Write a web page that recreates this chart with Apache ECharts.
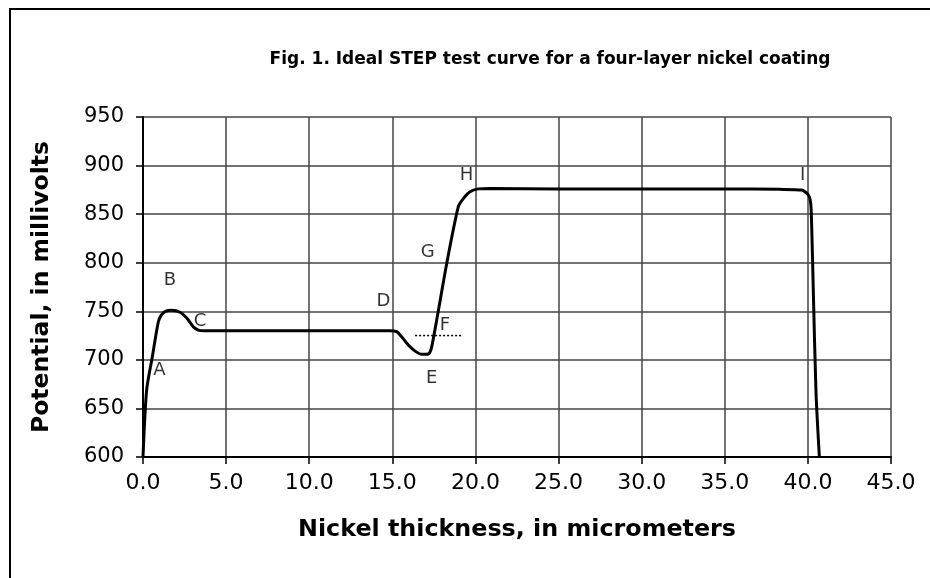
<!DOCTYPE html>
<html>
<head>
<meta charset="utf-8">
<script src="https://cdn.jsdelivr.net/npm/echarts@6/dist/echarts.min.js"></script>
<style>html,body{margin:0;padding:0;background:#fff;}#c{width:930px;height:578px;}</style>
</head>
<body>
<div id="c"></div>
<script>
// Curve: nickel thickness (micrometers) vs potential (mV)
const thickness = [0, 0.22, 0.57, 0.92, 1.1, 1.35, 1.73, 2.23, 2.63, 3.03, 3.33, 3.6, 8, 12, 14.86, 15.26, 15.56, 15.96, 16.37, 16.77, 17.17, 17.37, 18.27, 18.97, 19.27, 19.67, 20.17, 20.88, 25, 30, 35, 38.3, 39.63, 40.03, 40.17, 40.23, 40.33, 40.49, 40.69];
const potential = [600, 669, 704, 739, 746, 750, 751, 749, 743, 734, 730.7, 730, 730, 730, 730, 729, 723.8, 715.3, 709, 705.7, 706, 713.5, 799, 857.7, 866, 873, 876, 876.5, 876, 876, 876, 875.5, 874.8, 869.7, 861, 837, 768.5, 665.6, 600];
// Dotted reference line at F
const fLineX = [16.37, 19.17];
const fLineY = [725, 725];
// Point annotations
const annoNames = ['A', 'B', 'C', 'D', 'E', 'F', 'G', 'H', 'I'];
const annoX = [0.98, 1.62, 3.43, 14.46, 17.37, 18.17, 17.13, 19.47, 39.69];
const annoY = [689.6, 782, 740, 760, 681, 736, 811, 890, 890];
// Axes
const xMin = 0, xMax = 45, xStep = 5;
const yMin = 600, yMax = 950, yStep = 50;

const chart = echarts.init(document.getElementById('c'));
chart.setOption({
  animation: false,
  backgroundColor: '#fff',
  title: {
    text: 'Fig. 1. Ideal STEP test curve for a four-layer nickel coating',
    left: 545, top: 46, textAlign: 'center',
    textStyle: {fontFamily: 'DejaVu Sans', fontWeight: 'bold', fontSize: 17, color: '#000'}
  },
  graphic: [{
    type: 'rect', shape: {x: 10, y: 9, width: 940, height: 600},
    style: {fill: 'none', stroke: '#000', lineWidth: 2}, z: -1
  }],
  grid: {left: 143, right: 39, top: 117, bottom: 121},
  xAxis: {
    type: 'value', min: xMin, max: xMax, interval: xStep,
    name: 'Nickel thickness, in micrometers', nameLocation: 'middle', nameGap: 61,
    nameTextStyle: {fontFamily: 'DejaVu Sans', fontWeight: 'bold', fontSize: 23.8, color: '#000'},
    axisLine: {show: true, onZero: false, lineStyle: {color: '#000', width: 2}},
    axisTick: {show: true, inside: false, length: 7, lineStyle: {color: '#000', width: 1.5}},
    axisLabel: {fontFamily: 'DejaVu Sans', fontSize: 22, color: '#000', margin: 15,
      formatter: v => v.toFixed(1)},
    splitLine: {show: true, lineStyle: {color: '#444', width: 1.5}}
  },
  yAxis: {
    type: 'value', min: yMin, max: yMax, interval: yStep,
    name: 'Potential, in millivolts', nameLocation: 'middle', nameGap: 89,
    nameTextStyle: {fontFamily: 'DejaVu Sans', fontWeight: 'bold', fontSize: 23.5, color: '#000'},
    axisLine: {show: true, onZero: false, lineStyle: {color: '#000', width: 2}},
    axisTick: {show: true, inside: false, length: 7, lineStyle: {color: '#000', width: 1.5}},
    axisLabel: {fontFamily: 'DejaVu Sans', fontSize: 21, color: '#000', margin: 19},
    splitLine: {show: true, lineStyle: {color: '#444', width: 1.5}}
  },
  series: [
    {
      type: 'line', data: thickness.map((x, i) => [x, potential[i]]),
      showSymbol: false, smooth: 0.25, clip: true,
      lineStyle: {color: '#000', width: 3}, z: 5
    },
    {
      type: 'line', data: fLineX.map((x, i) => [x, fLineY[i]]),
      showSymbol: false, lineStyle: {color: '#000', width: 1.5, type: [2, 2]}, z: 4
    },
    {
      type: 'scatter', data: annoX.map((x, i) => [x, annoY[i], annoNames[i]]),
      symbolSize: 0, itemStyle: {color: 'rgba(0,0,0,0)'},
      label: {show: true, position: 'inside', formatter: p => p.data[2],
        fontFamily: 'DejaVu Sans', fontSize: 18, color: '#000'},
      z: 6
    }
  ]
});
</script>
</body>
</html>
